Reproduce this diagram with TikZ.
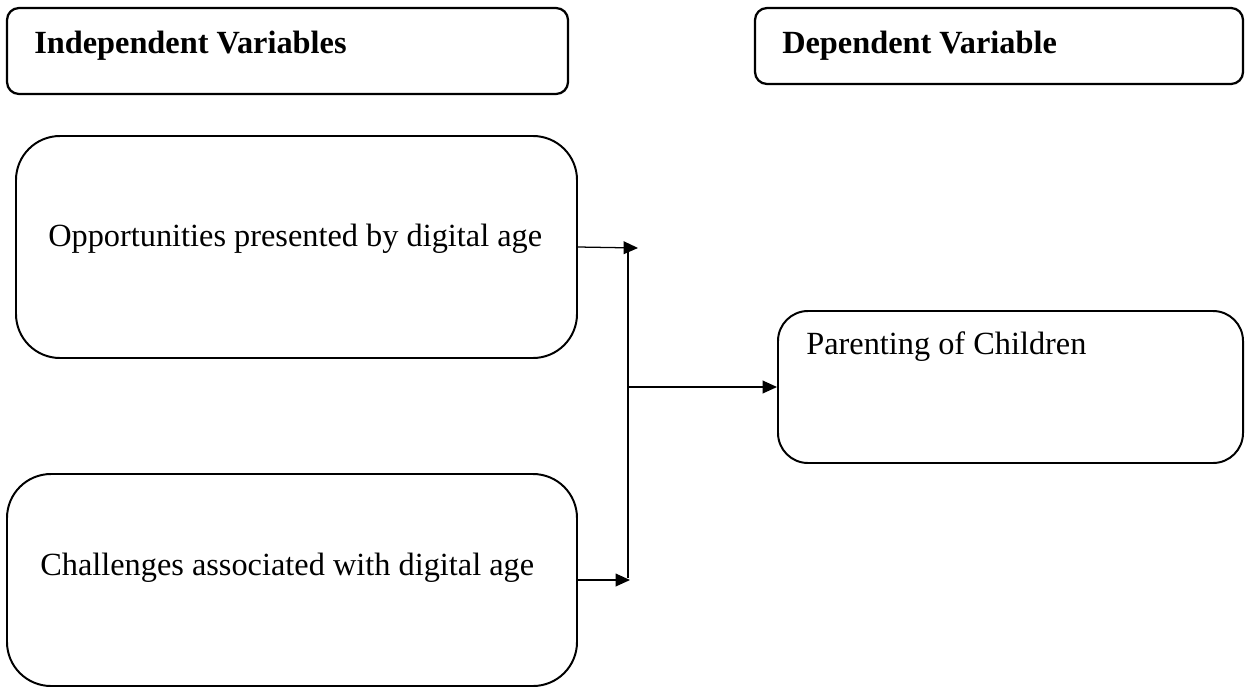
\documentclass[tikz,border=0pt]{standalone}
\usepackage{fontspec}
\setmainfont{Liberation Serif}
\usetikzlibrary{arrows.meta}

\begin{document}
\begin{tikzpicture}[
  headbox/.style={draw,line width=1.6pt,rounded corners=0.3cm,inner sep=0pt},
  varbox/.style={draw,line width=1.4pt,inner sep=0pt},
  boxtext/.style={anchor=base west,inner sep=0pt,font=\fontsize{23}{27}\selectfont},
  headtext/.style={boxtext,font=\fontsize{23}{27}\selectfont\bfseries},
  link/.style={line width=0.9pt},
  arrow/.style={link,-{Triangle[length=0.36cm,width=0.32cm]}}]
  \useasboundingbox (0,0) rectangle (31.125,-17.175);
  % column headings
  \node[headbox,minimum width=14.025cm,minimum height=2.15cm] (hdrIV) at (7.1875,-1.275) {};
  \node[headbox,minimum width=12.2cm,minimum height=1.9cm] (hdrDV) at (24.975,-1.15) {};
  \node[headtext] (hdrIVtxt) at (0.85,-1.325) {Independent Variables};
  \node[headtext] (hdrDVtxt) at (19.55,-1.325) {Dependent Variable};
  % variables
  \node[varbox,rounded corners=1.1cm,minimum width=14.025cm,minimum height=5.55cm] (opp) at (7.4125,-6.175) {};
  \node[varbox,rounded corners=1.1cm,minimum width=14.25cm,minimum height=5.3cm] (chal) at (7.3,-14.5) {};
  \node[varbox,rounded corners=0.75cm,minimum width=11.625cm,minimum height=3.8cm] (par) at (25.2625,-9.675) {};
  \node[boxtext] (opptxt) at (1.2,-6.15) {Opportunities presented by digital age};
  \node[boxtext] (chaltxt) at (1.0,-14.375) {Challenges associated with digital age};
  \node[boxtext] (partxt) at (20.15,-8.85) {Parenting of Children};
  % joining bar
  \coordinate (top) at (15.7,-6.2);
  \coordinate (bot) at (15.7,-14.45);
  \coordinate (mid) at (15.7,-9.675);
  \coordinate (tipA) at (15.95,-6.2);
  \coordinate (tipB) at (15.75,-14.5);
  \draw[link] (top)--(bot);
  \draw[arrow] (opp.east)--(tipA);
  \draw[arrow] (chal.east)--(tipB);
  \draw[arrow] (mid)--(par.west);
\end{tikzpicture}
\end{document}
